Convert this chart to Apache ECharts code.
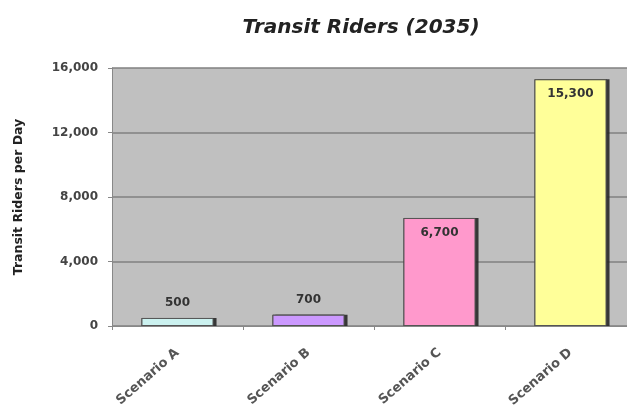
<!DOCTYPE html>
<html><head><meta charset="utf-8">
<script src="https://cdn.jsdelivr.net/npm/echarts@6/dist/echarts.min.js"></script>
<style>html,body{margin:0;padding:0;background:#fff}#c{width:627px;height:408px}</style>
</head><body><div id="c"></div>
<script>
const categories = ["Scenario A", "Scenario B", "Scenario C", "Scenario D"];
const riders = [500, 700, 6700, 15300];
const barColors = ["#ccf2f0", "#cc99ff", "#ff99cc", "#ffff99"];
const labelPositions = ["top", "top", "insideTop", "insideTop"];
const yTicks = [0, 4000, 8000, 12000, 16000];

const F = 'DejaVu Sans';
const chart = echarts.init(document.getElementById('c'));
chart.setOption({
  animation: false,
  title: {
    text: 'Transit Riders (2035)', left: 356, top: 13, textAlign: 'center',
    textStyle: {fontFamily: F, fontSize: 20, fontWeight: 'bold', fontStyle: 'italic', color: '#222'}
  },
  grid: {left: 112, top: 68, width: 524, height: 258, backgroundColor: '#c0c0c0', show: true, borderWidth: 0,
    outerBoundsMode: 'none', containLabel: false},
  xAxis: {
    type: 'category', data: categories,
    axisLine: {lineStyle: {color: '#888', width: 1}},
    axisTick: {show: true, alignWithLabel: false, length: 4, lineStyle: {color: '#888'}},
    axisLabel: {rotate: 41, margin: 25, fontFamily: F, fontSize: 13, fontWeight: 'bold', color: '#555'}
  },
  yAxis: {
    type: 'value', min: yTicks[0], max: yTicks[yTicks.length - 1], interval: 4000,
    name: 'Transit Riders per Day', nameLocation: 'middle', nameGap: 87, nameRotate: 90,
    nameTextStyle: {fontFamily: F, fontSize: 12.5, fontWeight: 'bold', color: '#222'},
    axisLine: {show: true, lineStyle: {color: '#888'}},
    axisTick: {show: true, length: 4, lineStyle: {color: '#888'}},
    axisLabel: {margin: 14, fontFamily: F, fontSize: 12, fontWeight: 'bold', color: '#444',
      formatter: v => v.toLocaleString('en-US')},
    splitLine: {lineStyle: {color: '#808080', width: 1.5}}
  },
  series: [{
    type: 'bar', barWidth: '55%', silent: true,
    data: riders.map((v, i) => ({
      value: v,
      itemStyle: {color: '#333', shadowColor: 'rgba(40,40,40,0.9)', shadowOffsetX: 3, shadowOffsetY: 0, shadowBlur: 0}
    })),
    label: {show: false}
  }, {
    type: 'bar', barWidth: '55%', barGap: '-100%',
    data: riders.map((v, i) => ({
      value: v,
      itemStyle: {color: barColors[i], borderColor: '#555', borderWidth: 1},
      label: {position: labelPositions[i]}
    })),
    label: {show: true, distance: 9, fontFamily: F, fontSize: 12, fontWeight: 'bold', color: '#333',
      formatter: p => p.value.toLocaleString('en-US')}
  }]
});
</script></body></html>
